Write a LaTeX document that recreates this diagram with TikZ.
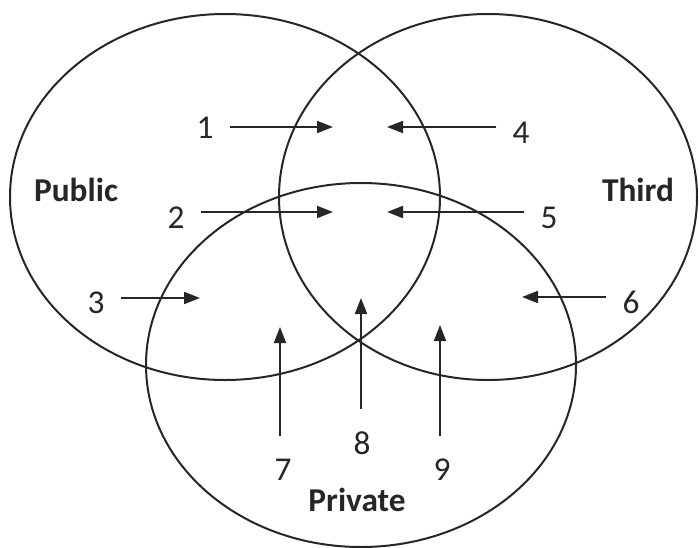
\documentclass[tikz,border=0pt]{standalone}
\usepackage{fontspec}
\setmainfont{Carlito}
\usetikzlibrary{positioning, arrows.meta}
\tikzset{>={Triangle[length=12pt, width=9pt]}}

\begin{document}
\begin{tikzpicture}
    [
        x=0.75pt, y=-0.75pt,
        ring/.style={draw=black!85, line width=1.5pt},
        set_label/.style={font=\fontsize{25}{29}\selectfont\bfseries, text=black!85},
        num_node/.style={font=\fontsize{25}{29}\selectfont, text=black!85, inner xsep=12pt, inner ysep=17pt},
        arrow_line/.style={->, draw=black!85, line width=1.5pt},
    ]

  \useasboundingbox (0,0) rectangle (699,547);

  % the three sets
  \draw[ring] (225,197) ellipse [x radius=161.25pt, y radius=137.25pt];
  \draw[ring] (488,197) ellipse [x radius=156.75pt, y radius=137.25pt];
  \draw[ring] (361,365) ellipse [x radius=161.25pt, y radius=136.5pt];

  \node[set_label] (public) at (76,190) {Public};
  \node[set_label] (third) at (638,190) {Third};
  \node[set_label] (private) at (357,500) {Private};

  % numbered regions
  \node[num_node] (n1) at (205,128) {1};
  \node[num_node] (n2) at (176,218) {2};
  \node[num_node] (n3) at (96,303) {3};
  \node[num_node] (n4) at (521,133) {4};
  \node[num_node] (n5) at (549,218) {5};
  \node[num_node] (n6) at (631,302) {6};
  \node[num_node] (n7) at (283,470) {7};
  \node[num_node] (n8) at (362,443) {8};
  \node[num_node] (n9) at (442,470) {9};

  \coordinate (t1) at (333,127);
  \coordinate (t2) at (333,212);
  \coordinate (t3) at (200,298);
  \coordinate (t4) at (387,127);
  \coordinate (t5) at (387,212);
  \coordinate (t6) at (522,297);
  \coordinate (t7) at (280,327);
  \coordinate (t8) at (361,298);
  \coordinate (t9) at (440,325);

  \draw[arrow_line] (n1.east |- t1) -- (t1);
  \draw[arrow_line] (n2.east |- t2) -- (t2);
  \draw[arrow_line] (n3.east |- t3) -- (t3);
  \draw[arrow_line] (n4.west |- t4) -- (t4);
  \draw[arrow_line] (n5.west |- t5) -- (t5);
  \draw[arrow_line] (n6.west |- t6) -- (t6);
  \draw[arrow_line] (n7.north -| t7) -- (t7);
  \draw[arrow_line] (n8.north -| t8) -- (t8);
  \draw[arrow_line] (n9.north -| t9) -- (t9);
\end{tikzpicture}
\end{document}
